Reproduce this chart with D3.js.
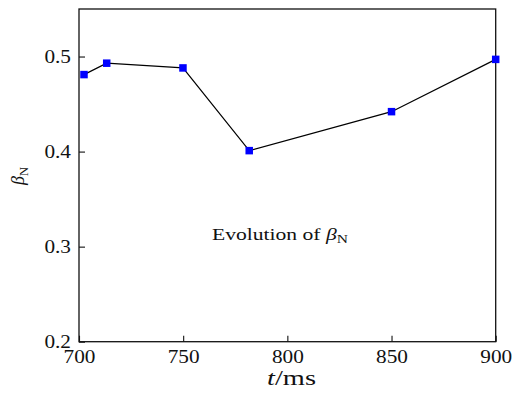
<!DOCTYPE html>
<html><head><meta charset="utf-8">
<script src="https://cdn.jsdelivr.net/npm/d3@7"></script>
<style>
body{margin:0;background:#fff;}
text{font-family:"Liberation Serif","Times New Roman",serif;fill:#111;}
</style></head>
<body><svg id="c" width="518" height="396"></svg>
<script>
const times = [702.4, 713.3, 749.9, 781.7, 850, 900];
const betaN = [0.481, 0.493, 0.488, 0.401, 0.442, 0.497];
const xTicks = [700, 750, 800, 850, 900];
const yTicks = [0.2, 0.3, 0.4, 0.5];
const xDomain = [700, 900];
const yDomain = [0.2, 0.55];

const svg = d3.select("#c");
const m = {l:79, t:9, r:22.3, b:54.3};
const W = 518, H = 396;
const x = d3.scaleLinear().domain(xDomain).range([m.l, W - m.r]);
const y = d3.scaleLinear().domain(yDomain).range([H - m.b, m.t]);
const SX = 1.12;

svg.append("rect").attr("width",W).attr("height",H).attr("fill","#fff");

const xAxis = svg.append("g").attr("transform",`translate(0,${H-m.b})`)
  .call(d3.axisBottom(x).tickValues(xTicks).tickSize(-6).tickPadding(8).tickFormat(d3.format("d")));
const yAxis = svg.append("g").attr("transform",`translate(${m.l},0)`)
  .call(d3.axisLeft(y).tickValues(yTicks).tickSize(-6).tickPadding(8/SX).tickFormat(d3.format(".1f")));
[xAxis,yAxis].forEach(a=>{
  a.select(".domain").remove();
  a.selectAll(".tick line").attr("stroke","#111").attr("stroke-width",1.1);
  a.selectAll(".tick text").attr("font-size",19).attr("fill","#111")
   .attr("transform",`scale(${SX},1)`)
   .style("font-family","'Liberation Serif',serif");
});
xAxis.selectAll(".tick text").attr("dy","0.71em");

svg.append("rect").attr("x",m.l).attr("y",m.t)
  .attr("width",W-m.l-m.r).attr("height",H-m.t-m.b)
  .attr("fill","none").attr("stroke","#111").attr("stroke-width",1.3);

const pts = times.map((t,i)=>[t,betaN[i]]);
svg.append("path").datum(pts)
  .attr("fill","none").attr("stroke","#000").attr("stroke-width",1.2)
  .attr("d", d3.line().x(d=>x(d[0])).y(d=>y(d[1])));
const s = 7.5;
svg.selectAll("rect.mk").data(pts).enter().append("rect").attr("class","mk")
  .attr("x",d=>x(d[0])-s/2).attr("y",d=>y(d[1])-s/2)
  .attr("width",s).attr("height",s).attr("fill","#0000ff");

// y label
const yl = svg.append("text").attr("transform","translate(24,176) rotate(-90)")
  .attr("text-anchor","middle").attr("font-size",18);
yl.append("tspan").attr("font-style","italic").text("β");
yl.append("tspan").attr("font-size",12.5).attr("dy",4).text("N");

// x label
const xl = svg.append("text").attr("transform","translate(291.5,385) scale(1.42,1)")
  .attr("text-anchor","middle").attr("font-size",20);
xl.append("tspan").attr("font-style","italic").text("t");
xl.append("tspan").text("/ms");

// annotation
const an = svg.append("text").attr("transform","translate(212,239.5) scale(1.35,1)")
  .attr("font-size",16);
an.append("tspan").text("Evolution of ");
an.append("tspan").attr("font-style","italic").text("β");
an.append("tspan").attr("font-size",11.5).attr("dy",3.5).text("N");
</script></body></html>
